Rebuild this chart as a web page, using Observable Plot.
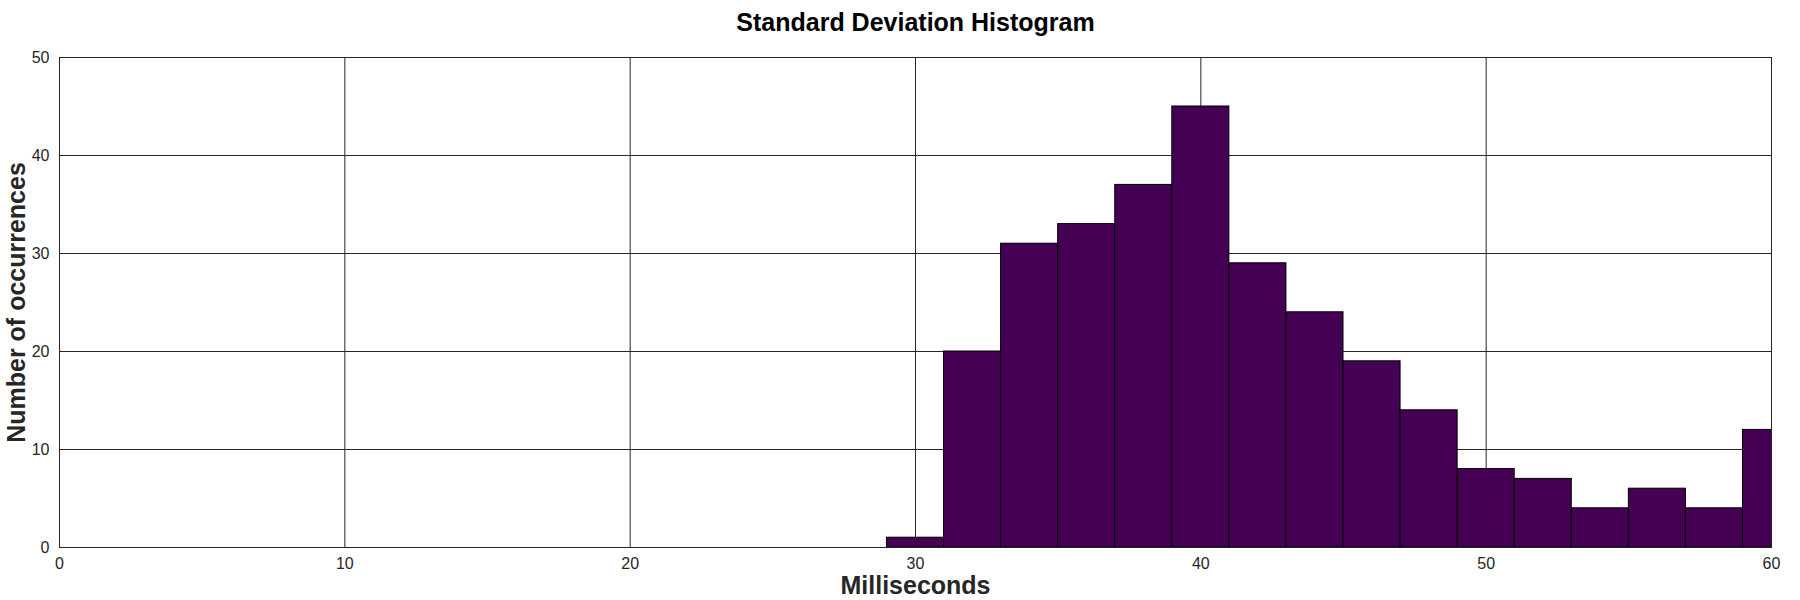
<!DOCTYPE html>
<html>
<head>
<meta charset="utf-8">
<script src="https://cdn.jsdelivr.net/npm/d3@7"></script>
<script src="https://cdn.jsdelivr.net/npm/@observablehq/plot@0.6"></script>
<style>
  html, body { margin: 0; padding: 0; background: #fff; }
  svg { display: block; }
</style>
</head>
<body>
<div id="chart"></div>
<script>
const title = "Standard Deviation Histogram";
const xLabel = "Milliseconds";
const yLabel = "Number of occurrences";
const binStart = [29, 31, 33, 35, 37, 39, 41, 43, 45, 47, 49, 51, 53, 55, 57, 59];
const binEnd   = [31, 33, 35, 37, 39, 41, 43, 45, 47, 49, 51, 53, 55, 57, 59, 61];
const counts   = [1, 20, 31, 33, 37, 45, 29, 24, 19, 14, 8, 7, 4, 6, 4, 12];
const xTicks = [0, 10, 20, 30, 40, 50, 60];
const yTicks = [0, 10, 20, 30, 40, 50];

const bins = binStart.map((s, i) => ({x1: s, x2: binEnd[i], y: counts[i]}));
const font = "'Liberation Sans', Arial, Helvetica, sans-serif";

const chart = Plot.plot({
  width: 1800,
  height: 600,
  marginLeft: 59,
  marginRight: 29,
  marginTop: 57,
  marginBottom: 53,
  style: {fontFamily: font, background: "#fff"},
  x: {domain: [0, 60], label: null},
  y: {domain: [0, 50], label: null},
  marks: [
    Plot.gridX(xTicks, {stroke: "#262626", strokeOpacity: 1, strokeWidth: 1}),
    Plot.gridY(yTicks, {stroke: "#262626", strokeOpacity: 1, strokeWidth: 1}),
    Plot.rect(bins, {x1: "x1", x2: "x2", y1: 0, y2: "y", fill: "#440154", stroke: "#000", strokeWidth: 1, clip: true}),
    Plot.frame({stroke: "#262626", strokeWidth: 1}),
    Plot.axisX(xTicks, {tickSize: 0, tickPadding: 10, fontSize: 16, color: "#262626", label: null}),
    Plot.axisY(yTicks, {tickSize: 0, tickPadding: 10, fontSize: 16, color: "#262626", label: null}),
    Plot.text([title], {text: d => d, frameAnchor: "top", textAnchor: "middle", lineAnchor: "middle", dy: -35, fontSize: 25, fontWeight: "bold", fill: "#000"}),
    Plot.text([xLabel], {text: d => d, frameAnchor: "bottom", textAnchor: "middle", lineAnchor: "middle", dy: 38, fontSize: 25, fontWeight: "bold", fill: "#262626"}),
    Plot.text([yLabel], {text: d => d, frameAnchor: "left", textAnchor: "middle", lineAnchor: "middle", dx: -43, rotate: -90, fontSize: 25, fontWeight: "bold", fill: "#262626"})
  ]
});
document.getElementById("chart").appendChild(chart);
</script>
</body>
</html>
